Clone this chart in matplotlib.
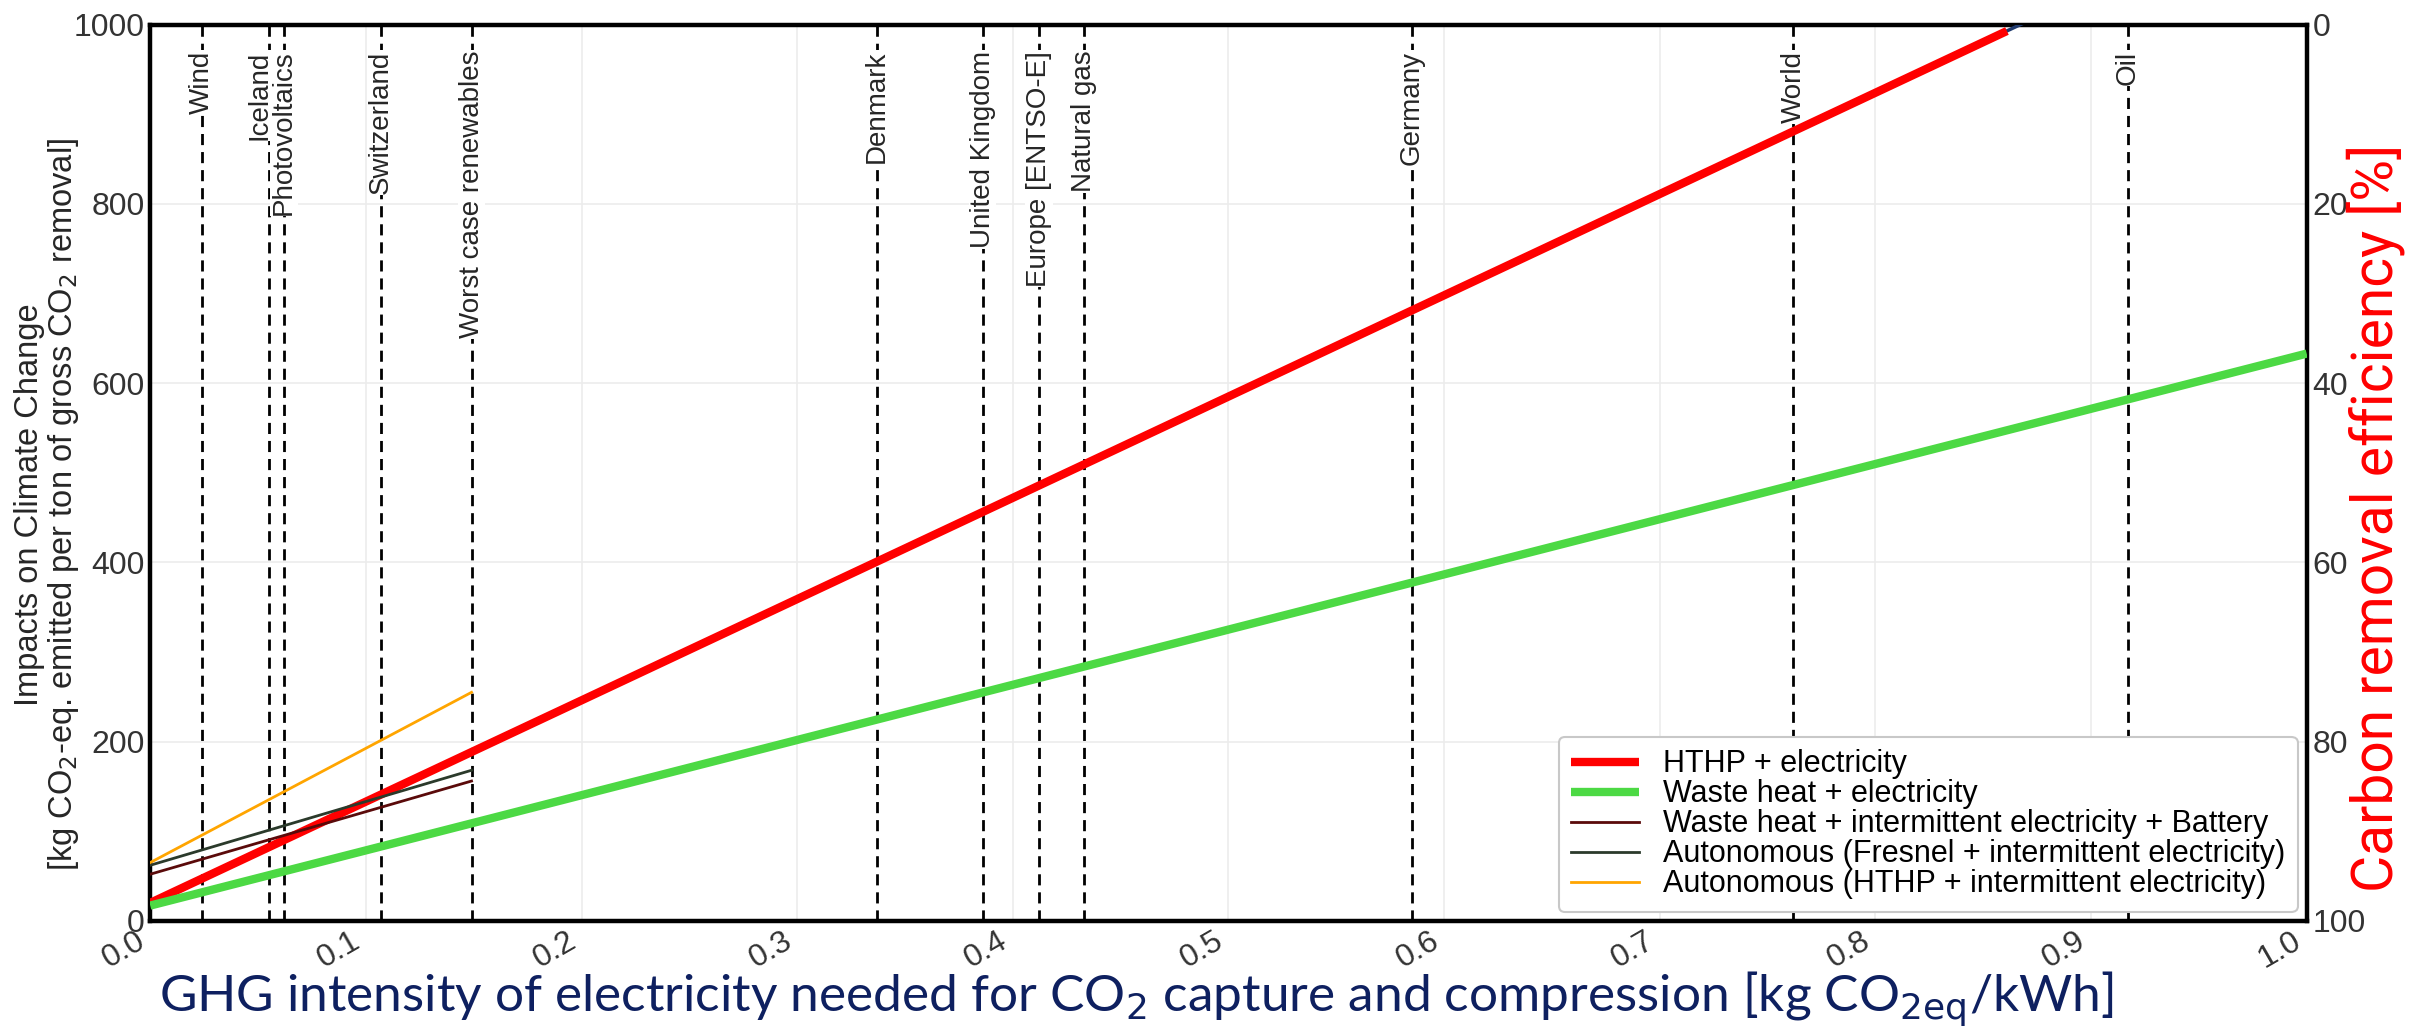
import matplotlib
matplotlib.use("Agg")
import matplotlib.pyplot as plt
from matplotlib import transforms

# ---------------- data ----------------
grid_names = ["Wind", "Iceland", "Photovoltaics", "Switzerland", "Worst case renewables",
              "Denmark", "United Kingdom", "Europe [ENTSO-E]", "Natural gas", "Germany",
              "World", "Oil"]
grid_intensity = [0.024, 0.055, 0.062, 0.107, 0.149, 0.337, 0.386, 0.412, 0.433, 0.585,
                  0.762, 0.917]

hthp_x = [0.0, 0.861]
hthp_y = [20, 993]
hthp_tail_x = [0.0, 0.868]
hthp_tail_y = [20, 1001]
waste_x = [0.0, 1.0]
waste_y = [17, 633]
battery_x = [0.0, 0.149]
battery_y = [52, 156]
fresnel_x = [0.0, 0.149]
fresnel_y = [62, 168]
auto_hthp_x = [0.0, 0.149]
auto_hthp_y = [65, 255]

series_labels = ["HTHP + electricity", "Waste heat + electricity",
                 "Waste heat + intermittent electricity + Battery",
                 "Autonomous (Fresnel + intermittent electricity)",
                 "Autonomous (HTHP + intermittent electricity)"]

x_ticks = [0.0, 0.1, 0.2, 0.3, 0.4, 0.5, 0.6, 0.7, 0.8, 0.9, 1.0]
y_ticks = [0, 200, 400, 600, 800, 1000]
eff_ticks = [0, 20, 40, 60, 80, 100]

# ---------------- style ----------------
plt.rcParams["font.family"] = ["Liberation Sans", "DejaVu Sans"]
tick_color = "#333333"

fig = plt.figure(figsize=(24.23, 10.30), dpi=100)
ax = fig.add_axes([0.062, 0.106, 0.890, 0.870])

ax.plot(hthp_tail_x, hthp_tail_y, color="#1f3a6e", lw=2.5, zorder=3)
ax.plot(hthp_x, hthp_y, color="#ff0000", lw=6, label=series_labels[0], zorder=4,
        solid_capstyle="butt")
ax.plot(waste_x, waste_y, color="#4cd944", lw=6, label=series_labels[1], zorder=4,
        solid_capstyle="butt")
ax.plot(battery_x, battery_y, color="#5a0a0a", lw=2, label=series_labels[2], zorder=4)
ax.plot(fresnel_x, fresnel_y, color="#2b3a2b", lw=2, label=series_labels[3], zorder=4)
ax.plot(auto_hthp_x, auto_hthp_y, color="#ffa500", lw=2, label=series_labels[4], zorder=4)

xtrans = ax.get_xaxis_transform()
for name, xv in zip(grid_names, grid_intensity):
    ax.axvline(xv, color="black", lw=2, ls=(0, (4, 2.5)), zorder=2)
    if name == "Iceland":
        tr = transforms.offset_copy(xtrans, fig=fig, x=4, y=0, units="dots")
        ha = "right"
    else:
        tr = xtrans
        ha = "center"
    ax.text(xv, 0.971, name, transform=tr, rotation=90,
            ha=ha, va="top", fontsize=20, color="#262626", zorder=3,
            bbox=dict(facecolor="white", edgecolor="none", pad=0.5))

ax.set_xlim(0, 1.0)
ax.set_ylim(0, 1000)
ax.set_xticks(x_ticks)
ax.set_xticklabels([f"{t:.1f}" for t in x_ticks], rotation=30, ha="right",
                   fontsize=23, color=tick_color)
ax.set_yticks(y_ticks)
ax.set_yticklabels([str(t) for t in y_ticks], fontsize=23, color=tick_color)
ax.tick_params(axis="both", length=0, pad=4)
ax.grid(True, color="#ececec", lw=1.2, zorder=0)
ax.set_axisbelow(True)
for sp in ax.spines.values():
    sp.set_linewidth(3.2)
    sp.set_color("black")

fig.text(0.0195, 0.51,
         "Impacts on Climate Change\n[kg CO$_2$-eq. emitted per ton of gross CO$_2$ removal]",
         rotation=90, ha="center", va="center", multialignment="center",
         fontsize=23.5, color="#262626", linespacing=1.05)

leg = ax.legend(loc="lower right", fontsize=22, labelspacing=0.0, handlelength=2.2,
                borderaxespad=0.3, framealpha=1, edgecolor="#c8c8c8", fancybox=True,
                borderpad=0.4)
leg.get_frame().set_linewidth(1.5)
leg.set_zorder(10)

ax2 = ax.twinx()
ax2.set_ylim(100, 0)
ax2.set_yticks(eff_ticks)
ax2.set_yticklabels([str(t) for t in eff_ticks], fontsize=23, color=tick_color)
ax2.tick_params(axis="y", length=0, pad=4)
for sp in ax2.spines.values():
    sp.set_visible(False)

fig.text(0.469, 0.030,
         "GHG intensity of electricity needed for CO$_2$ capture and compression [kg CO$_{2\\mathrm{eq}}$/kWh]",
         ha="center", va="center", fontsize=37, color="#0e2060", family=["Lato", "DejaVu Sans"])

fig.text(0.9805, 0.497, "Carbon removal efficiency [%]", rotation=90, ha="center",
         va="center", fontsize=41, color="#ff0000",
         family=["Roboto", "DejaVu Sans"])

fig.savefig("out.png", dpi=100)
